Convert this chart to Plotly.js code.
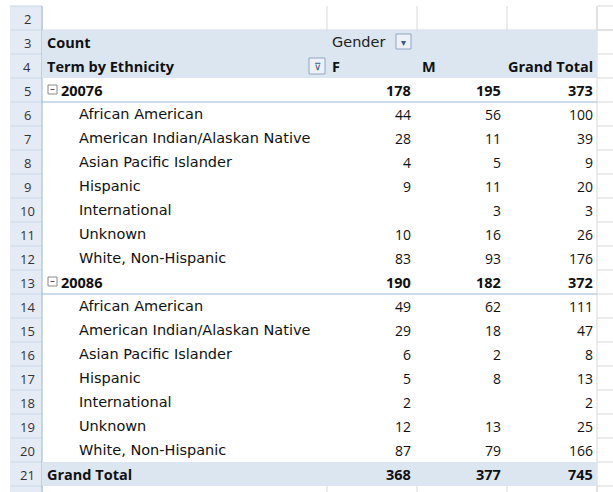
<!DOCTYPE html>
<html>
<head>
<meta charset="utf-8">
<script src="https://cdn.plot.ly/plotly-3.0.1.min.js"></script>
<style>html,body{margin:0;padding:0;background:#fff}#chart{width:613px;height:492px}</style>
</head>
<body>
<div id="chart"></div>
<script>
const rowNumbers = [2,3,4,5,6,7,8,9,10,11,12,13,14,15,16,17,18,19,20,21];
const headerLabels = ["Count", "Term by Ethnicity", "Gender"];
const columnLabels = ["F", "M", "Grand Total"];
const terms = ["20076", "20086"];
const ethnicities = ["African American", "American Indian/Alaskan Native", "Asian Pacific Islander",
  "Hispanic", "International", "Unknown", "White, Non-Hispanic"];
const female2007 = [44, 28, 4, 9, null, 10, 83];
const male2007   = [56, 11, 5, 11, 3, 16, 93];
const total2007  = [100, 39, 9, 20, 3, 26, 176];
const female2008 = [49, 29, 6, 5, 2, 12, 87];
const male2008   = [62, 18, 2, 8, null, 13, 79];
const total2008  = [111, 47, 8, 13, 2, 25, 166];
const subtotal2007 = [178, 195, 373];
const subtotal2008 = [190, 182, 372];
const grandTotal = [368, 377, 745];
const grandTotalLabel = "Grand Total";

// ---- layout geometry (axis units == pixels) ----
const ROW_H = 24, ROW3_TOP = 30;
function rowTop(n){ return ROW3_TOP + (n-3)*ROW_H; }
function rowMid(n){ return rowTop(n) + ROW_H/2; }
const HDR_L = 10, HDR_R = 42;
const colEdges = [42, 327, 417, 507, 597];
const numRight = [413, 503, 595];
const BOLD_FONT = "Open Sans, Lato, sans-serif";
const LABEL_FONT = "DejaVu Sans, Verdana, sans-serif";
const NUM_FONT = "Open Sans, Lato, sans-serif";
const band = "#dce6f1", hdrBg = "#e4ebf5", blueLine = "#9db8da", grid = "#d9d9d9";

const shapes = [], annotations = [];
function rect(x0,y0,x1,y1,fill,lc,lw){ shapes.push({type:'rect',xref:'x',yref:'y',x0,y0,x1,y1,fillcolor:fill,line:{color:lc||fill,width:lw===undefined?0:lw},layer:'below'}); }
function line(x0,y0,x1,y1,c,w){ shapes.push({type:'line',xref:'x',yref:'y',x0,y0,x1,y1,line:{color:c,width:w||1},layer:'below'}); }
function text(x,y,t,anchor,opts){ opts=opts||{}; annotations.push({xref:'x',yref:'y',x,y,text:t,showarrow:false,xanchor:anchor||'left',yanchor:'middle',
  font:{family:opts.family||(opts.bold?BOLD_FONT:LABEL_FONT),size:opts.size||14.5,color:opts.color||'#111',weight:opts.bold?'bold':'normal'}}); }

const firstRow = rowNumbers[0], lastRow = rowNumbers[rowNumbers.length-1];
const top2 = rowTop(firstRow), bottom = rowTop(lastRow)+ROW_H;

// gridlines outside the pivot (row 2, right side, below)
colEdges.forEach(x => { line(x, top2, x, rowTop(3), grid); line(x, bottom, x, 492, grid); });
line(597, top2, 597, 492, grid);
for (let n = firstRow; n <= lastRow+1; n++) line(597, rowTop(n), 613, rowTop(n), grid);
line(42, rowTop(3), 613, rowTop(3), grid);

// row header column
rect(HDR_L, top2, HDR_R, 492, hdrBg);
for (let n = firstRow; n <= lastRow+1; n++) line(HDR_L, rowTop(n), HDR_R, rowTop(n), "#c9d7e8");
line(HDR_R, top2, HDR_R, 492, "#9eb6ce");
rowNumbers.forEach(n => text(27, rowMid(n)+1, String(n), 'center', {size:13, color:'#333', family:NUM_FONT}));

// header band rows 3-4 and grand total band
rect(42, rowTop(3), 597, rowTop(5), band);
rect(42, rowTop(21), 597, rowTop(22), band);
line(42, rowTop(6), 597, rowTop(6), blueLine, 1.2);
line(42, rowTop(14), 597, rowTop(14), blueLine, 1.2);

// header texts
text(45, rowMid(3), headerLabels[0], 'left', {bold:true});
text(45, rowMid(4), headerLabels[1], 'left', {bold:true});
text(330, rowMid(3), headerLabels[2], 'left', {color:'#222'});
columnLabels.forEach((c,i) => {
  if (i < 2) text(colEdges[i+1]+3, rowMid(4), c, 'left', {bold:true});
  else text(numRight[i], rowMid(4), c, 'right', {bold:true});
});
// filter buttons
rect(309, rowTop(4)+4, 325, rowTop(4)+20, "#eef2f8", "#8ea6c4", 1);
text(317, rowMid(4), "⊽", 'center', {size:10, color:'#3a5a8a'});
rect(396, rowTop(3)+4, 411, rowTop(3)+19, "#eef2f8", "#8ea6c4", 1);
text(403.5, rowMid(3), "▾", 'center', {size:10, color:'#3a5a8a'});

// body
function fmt(v){ return v === null ? "" : String(v); }
function termBlock(startRow, term, sub, fem, mal, tot){
  const y = rowMid(startRow);
  rect(48, y-5, 57, y+4, "#fff", "#8a8a8a", 1);
  line(50.5, y-0.5, 54.5, y-0.5, "#555", 1);
  text(59, y, term, 'left', {bold:true});
  sub.forEach((v,i) => text(numRight[i], y, fmt(v), 'right', {bold:true}));
  ethnicities.forEach((e,k) => {
    const yy = rowMid(startRow+1+k);
    text(77, yy, e, 'left');
    [fem[k], mal[k], tot[k]].forEach((v,i) => text(numRight[i], yy, fmt(v), 'right', {family:NUM_FONT, size:14}));
  });
}
termBlock(5, terms[0], subtotal2007, female2007, male2007, total2007);
termBlock(13, terms[1], subtotal2008, female2008, male2008, total2008);

text(45, rowMid(21), grandTotalLabel, 'left', {bold:true});
grandTotal.forEach((v,i) => text(numRight[i], rowMid(21), fmt(v), 'right', {bold:true}));

const layout = {
  width: 613, height: 492, margin: {l:0, r:0, t:0, b:0},
  paper_bgcolor: '#fff', plot_bgcolor: '#fff', showlegend: false,
  xaxis: {range:[0,613], visible:false, fixedrange:true},
  yaxis: {range:[492,0], visible:false, fixedrange:true},
  shapes, annotations
};
Plotly.newPlot('chart', [], layout, {staticPlot:true, displayModeBar:false});
</script>
</body>
</html>
